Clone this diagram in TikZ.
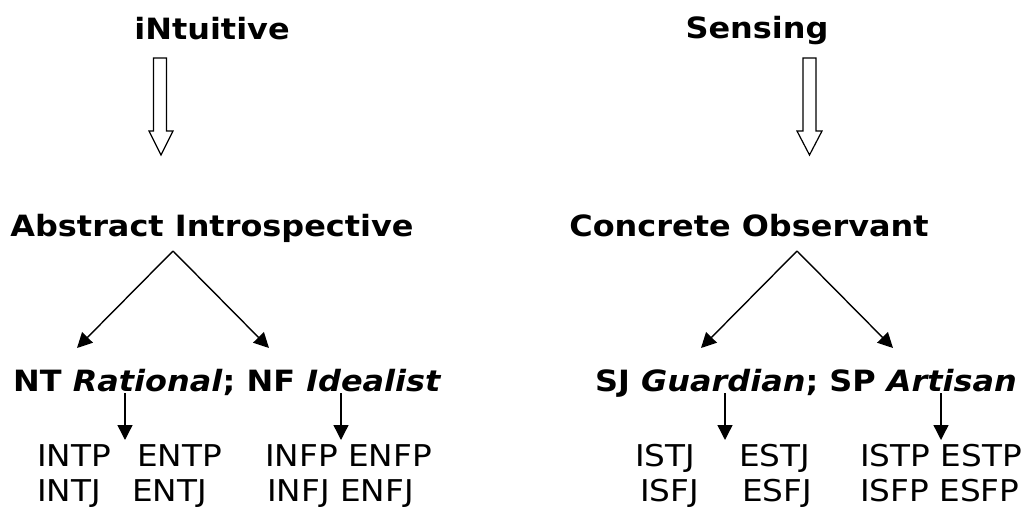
\documentclass[tikz,border=0pt]{standalone}
\usepackage{fontspec}
\setmainfont{DejaVu Sans}[FakeStretch=1.09]
\usetikzlibrary{arrows.meta}
\tikzset{
  head/.style={font=\fontsize{29.3}{35}\selectfont\bfseries, inner sep=0pt, anchor=base},
  sub/.style={font=\fontsize{29.3}{35}\selectfont\bfseries, inner sep=0pt, anchor=base west},
  typ/.style={font=\fontsize{30}{36}\selectfont, inner sep=0pt, anchor=base west},
  blockarrow/.style={draw=black, line width=1.2pt, fill=white, line join=miter},
  conn/.style={draw=black, line width=1.4pt, -{Triangle[length=15pt,width=15pt]}},
}
\begin{document}
\begin{tikzpicture}[x=1pt,y=-1pt]
\useasboundingbox (0,0) rectangle (1031,508);
% headings
\node[head] (int) at (212,40) {iNtuitive};
\node[head] (sen) at (757,39) {Sensing};
\node[head] (abs) at (212,236) {Abstract Introspective};
\node[head] (con) at (749,236) {Concrete Observant};
% block arrows
\draw[blockarrow] (153.5,58) -- (166.5,58) -- (166.5,131) -- (173,131) -- (161,155) -- (149,131) -- (153.5,131) -- cycle;
\draw[blockarrow] (803,58) -- (816,58) -- (816,131) -- (822,131) -- (809.5,155) -- (797,131) -- (803,131) -- cycle;
% temperament lines
\node[sub] (ntnf) at (13,391) {NT \textit{Rational}; NF \textit{Idealist}};
\node[sub] (sjsp) at (595,391) {SJ \textit{Guardian}; SP \textit{Artisan}};
% apex coordinates
\coordinate (a1) at (173,251);
\coordinate (l1) at (77,348);
\coordinate (r1) at (269,348);
\coordinate (a2) at (797,251);
\coordinate (l2) at (701,348);
\coordinate (r2) at (893,348);
\draw[conn] (a1) -- (l1);
\draw[conn] (a1) -- (r1);
\draw[conn] (a2) -- (l2);
\draw[conn] (a2) -- (r2);
% types
\node[typ] (intp) at (37,466) {INTP};
\node[typ] (entp) at (137,466) {ENTP};
\node[typ] (infp) at (265,466) {INFP ENFP};
\node[typ] (intj) at (37,501) {INTJ};
\node[typ] (entj) at (132,501) {ENTJ};
\node[typ] (infj) at (267,501) {INFJ ENFJ};
\node[typ] (istj) at (635,466) {ISTJ};
\node[typ] (estj) at (739,466) {ESTJ};
\node[typ] (istp) at (860,466) {ISTP ESTP};
\node[typ] (isfj) at (640,501) {ISFJ};
\node[typ] (esfj) at (742,501) {ESFJ};
\node[typ] (isfp) at (860,501) {ISFP ESFP};
% small arrows
\coordinate (s1) at (125,393); \coordinate (t1) at (125,440);
\coordinate (s2) at (341,393); \coordinate (t2) at (341,440);
\coordinate (s3) at (725,393); \coordinate (t3) at (725,440);
\coordinate (s4) at (941,393); \coordinate (t4) at (941,440);
\draw[conn] (s1) -- (t1);
\draw[conn] (s2) -- (t2);
\draw[conn] (s3) -- (t3);
\draw[conn] (s4) -- (t4);
\end{tikzpicture}
\end{document}
